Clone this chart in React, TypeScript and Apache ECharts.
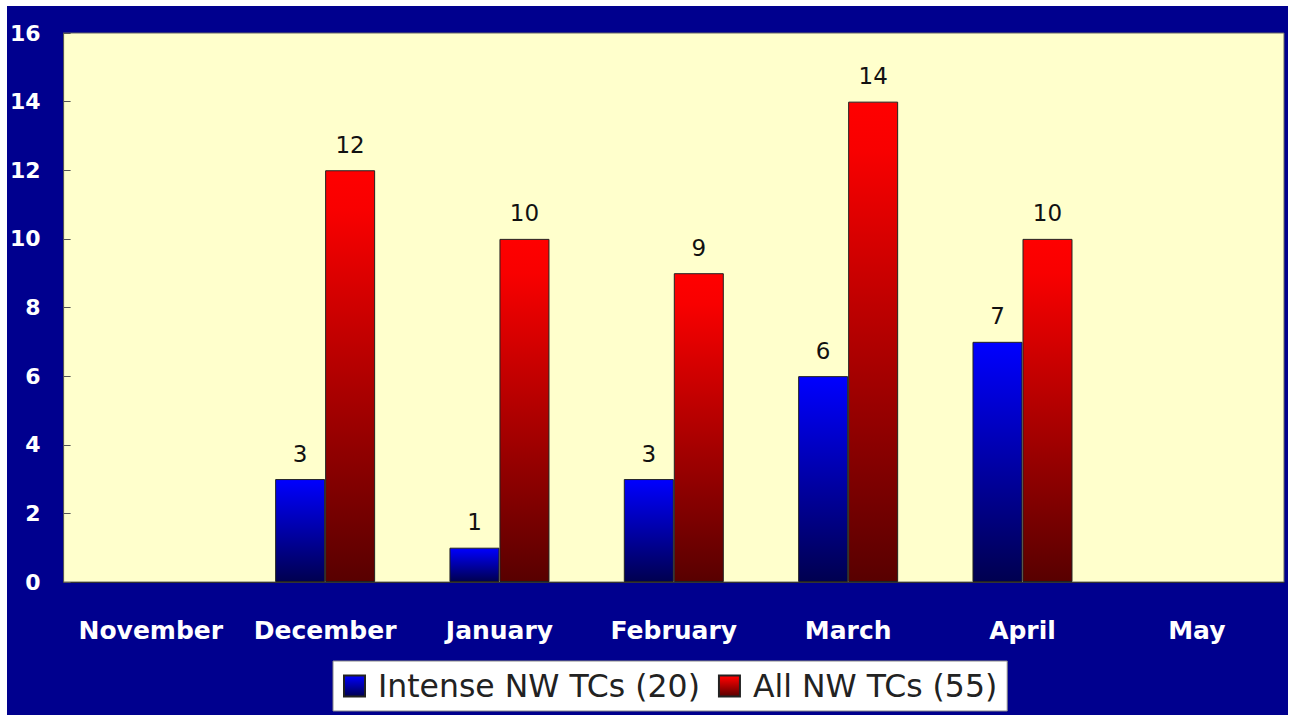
import React, { useEffect, useRef } from "react";
import * as echarts from "echarts";

const months = ["November", "December", "January", "February", "March", "April", "May"];
const intenseTCs = [null, 3, 1, 3, 6, 7, null];
const allTCs = [null, 12, 10, 9, 14, 10, null];
const seriesNames = ["Intense NW TCs (20)", "All NW TCs (55)"];

export default function App() {
  const ref = useRef<HTMLDivElement>(null);
  useEffect(() => {
    document.body.style.margin = "0";
    const chart = echarts.init(ref.current!, null, { renderer: "svg" });
    const blue = new echarts.graphic.LinearGradient(0, 0, 0, 1, [
      { offset: 0, color: "#0000ff" },
      { offset: 1, color: "#000050" },
    ]);
    const red = new echarts.graphic.LinearGradient(0, 0, 0, 1, [
      { offset: 0, color: "#ff0000" },
      { offset: 0.1, color: "#f80000" },
      { offset: 1, color: "#580000" },
    ]);
    const labelStyle = {
      show: true,
      position: "top" as const,
      distance: 14,
      color: "#111",
      fontSize: 23,
      fontFamily: "DejaVu Sans",
    };
    chart.setOption({
      animation: false,
      backgroundColor: "transparent",
      grid: {
        left: 56,
        top: 27,
        right: 4,
        bottom: 133,
        show: true,
        backgroundColor: "#ffffcc",
        borderColor: "#666",
        borderWidth: 1,
      },
      legend: {
        left: 326,
        top: 655,
        backgroundColor: "#ffffff",
        borderColor: "#888",
        borderWidth: 1,
        padding: [9, 10],
        itemWidth: 21,
        itemHeight: 21,
        itemGap: 18,
        icon: "rect",
        textStyle: {
          fontSize: 31.5,
          fontFamily: "DejaVu Sans",
          color: "#222",
          padding: [0, 0, 0, 8],
        },
        data: seriesNames,
      },
      xAxis: {
        type: "category",
        data: months,
        axisLine: { show: true, lineStyle: { color: "#333", width: 1 } },
        axisTick: { show: false },
        axisLabel: {
          color: "#ffffff",
          fontWeight: "bold",
          fontSize: 25,
          fontFamily: "DejaVu Sans",
          margin: 36,
          interval: 0,
        },
      },
      yAxis: {
        type: "value",
        min: 0,
        max: 16,
        interval: 2,
        splitLine: { show: false },
        axisLine: { show: true, lineStyle: { color: "#555" } },
        axisTick: { show: true, inside: true, length: 7, lineStyle: { color: "#555" } },
        axisLabel: {
          color: "#ffffff",
          fontWeight: "bold",
          fontSize: 22,
          fontFamily: "DejaVu Sans",
          margin: 23,
        },
      },
      series: [
        {
          name: seriesNames[0],
          type: "bar",
          data: intenseTCs,
          barWidth: 50,
          barGap: "0%",
          itemStyle: { color: blue, borderColor: "#222", borderWidth: 1 },
          label: labelStyle,
        },
        {
          name: seriesNames[1],
          type: "bar",
          data: allTCs,
          barWidth: 50,
          barGap: "0%",
          itemStyle: { color: red, borderColor: "#222", borderWidth: 1 },
          label: labelStyle,
        },
      ],
    });
    return () => chart.dispose();
  }, []);
  return (
    <div style={{ width: 1295, height: 715, background: "#ffffff", position: "relative" }}>
      <div
        ref={ref}
        style={{
          position: "absolute",
          left: 7,
          top: 6,
          width: 1281,
          height: 709,
          background: "#00008e",
        }}
      />
    </div>
  );
}
